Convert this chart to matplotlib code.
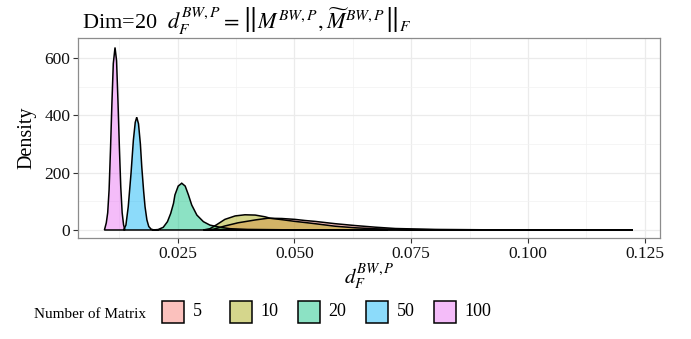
import matplotlib
matplotlib.use("Agg")
import matplotlib.pyplot as plt
from matplotlib.patches import Rectangle
from matplotlib.ticker import MultipleLocator

plt.rcParams['font.family'] = ['Liberation Serif', 'DejaVu Serif']
plt.rcParams['mathtext.fontset'] = 'stix'

# groups (number of matrices) and ggplot hue colours
groups = ['5', '10', '20', '50', '100']
colors = ['#F8766D', '#A3A500', '#00BF7D', '#00B0F6', '#E76BF3']

# density curves (x = d_F, y = density)
x_5 = [0.0310, 0.0326, 0.0351, 0.0379, 0.0416, 0.0443, 0.0473, 0.0501, 0.0523,
       0.0544, 0.0587, 0.0630, 0.0673, 0.0716, 0.0800, 0.0900, 0.1000, 0.1100, 0.1225]
y_5 = [0.0, 2.4, 14, 25, 35, 41, 40, 37, 33,
       30, 22, 15.5, 9.8, 5.2, 2.0, 0.8, 0.3, 0.1, 0.0]

x_10 = [0.0305, 0.0319, 0.0333, 0.0351, 0.0373, 0.0394, 0.0416, 0.0437, 0.0448,
        0.0473, 0.0501, 0.0523, 0.0544, 0.0587, 0.0630, 0.0673, 0.0750, 0.0850, 0.0950]
y_10 = [0.0, 4.5, 18, 37, 49, 53, 52, 46, 41,
        36, 30, 26, 22, 13.2, 7.7, 4.2, 1.5, 0.3, 0.0]

x_20 = [0.0195, 0.0208, 0.0219, 0.0228, 0.0235, 0.0241, 0.0244, 0.0251, 0.02586,
        0.0266, 0.0273, 0.0280, 0.0291, 0.0305, 0.0319, 0.0341, 0.0362, 0.0400,
        0.0480, 0.0600, 0.0700]
y_20 = [0.0, 1.5, 9.4, 29, 58, 93, 122, 153, 163,
        153, 122, 87, 52, 29, 17, 9.4, 4.5, 2.0,
        0.7, 0.2, 0.0]

x_50 = [0.0134, 0.0139, 0.0144, 0.0150, 0.0155, 0.0159, 0.01622, 0.0166, 0.0170,
        0.0173, 0.0177, 0.0180, 0.0184, 0.0188, 0.0193, 0.0199]
y_50 = [0.0, 17, 81, 198, 313, 375, 393, 370, 300,
        220, 135, 81, 35, 12, 3, 0.0]

x_100 = [0.0093, 0.0097, 0.0100, 0.0103, 0.0106, 0.0109, 0.0112, 0.01157, 0.0119,
         0.0122, 0.0125, 0.0128, 0.0131, 0.0134, 0.0137]
y_100 = [0.0, 25, 60, 140, 280, 440, 580, 636, 590,
         450, 290, 150, 60, 18, 0.0]

curves = [(x_5, y_5), (x_10, y_10), (x_20, y_20), (x_50, y_50), (x_100, y_100)]

W, H = 691, 339
fig = plt.figure(figsize=(W / 100, H / 100), dpi=100)
ax = fig.add_axes([78 / W, 1 - 238 / H, (660 - 78) / W, (238 - 38) / H])

for (xs, ys), col in zip(curves, colors):
    ax.fill(xs, ys, facecolor=col, alpha=0.45, edgecolor='none', zorder=3)
    ax.fill(xs, ys, facecolor='none', edgecolor='black', lw=1.1, zorder=4)

ax.set_xlim(0.00364, 0.1283)
ax.set_ylim(-27.9, 669)
ax.xaxis.set_major_locator(MultipleLocator(0.025))
ax.xaxis.set_minor_locator(MultipleLocator(0.0125))
ax.yaxis.set_major_locator(MultipleLocator(200))
ax.yaxis.set_minor_locator(MultipleLocator(100))
ax.xaxis.set_major_formatter(plt.FuncFormatter(lambda v, p: f'{v:.3f}'))
ax.grid(which='major', color='#EBEBEB', lw=0.9, zorder=0)
ax.grid(which='minor', color='#F2F2F2', lw=0.5, zorder=0)
ax.set_axisbelow(True)
ax.tick_params(which='major', length=3.5, width=0.8, color='#333333',
               labelsize=12.5, labelcolor='#111111', pad=2)
ax.tick_params(which='minor', length=0)
for s in ax.spines.values():
    s.set_color('#8c8c8c')
    s.set_linewidth(0.9)

ax.set_ylabel('Density', fontsize=14.5, labelpad=6)
ax.set_xlabel(r'$d_F^{BW,P}$', fontsize=15, labelpad=1)
fig.text(82 / W, 1 - 21 / H,
         r'Dim=20  $d_F^{BW,P}=\left\|M^{BW,P},\widetilde{M}^{BW,P}\right\|_F$',
         fontsize=16, va='center', ha='left')

# legend drawn below the panel
fig.text(146 / W, 1 - 314 / H, 'Number of Matrix', fontsize=11, va='center', ha='right')
for i, (lab, col) in enumerate(zip(groups, colors)):
    x0 = 161.7 + 68 * i
    fig.patches.append(Rectangle((x0 / W, 1 - 323.3 / H), 22.6 / W, 22.6 / H,
                                 transform=fig.transFigure, facecolor=col, alpha=0.45,
                                 edgecolor='none'))
    fig.patches.append(Rectangle((x0 / W, 1 - 323.3 / H), 22.6 / W, 22.6 / H,
                                 transform=fig.transFigure, facecolor='none',
                                 edgecolor='black', lw=1.1))
    fig.text((x0 + 31) / W, 1 - 311 / H, lab, fontsize=13, va='center', ha='left')

fig.savefig('out.png', dpi=100)
